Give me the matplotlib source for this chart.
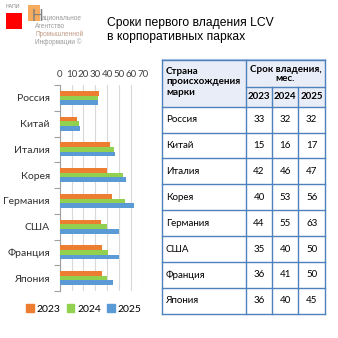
import numpy as np
import matplotlib
matplotlib.use("Agg")
import matplotlib.pyplot as plt
from matplotlib.patches import Rectangle, Patch

countries = ["Россия", "Китай", "Италия", "Корея", "Германия", "США", "Франция", "Япония"]
years = ["2023", "2024", "2025"]
v2023 = [33, 15, 42, 40, 44, 35, 36, 36]
v2024 = [32, 16, 46, 53, 55, 40, 41, 40]
v2025 = [32, 17, 47, 56, 63, 50, 50, 45]
series = [v2023, v2024, v2025]
colors = ["#ED7D31", "#92D050", "#5B9BD5"]
x_ticks = [0, 10, 20, 30, 40, 50, 60, 70]

title = "Сроки первого владения LCV\nв корпоративных парках"

plt.rcParams["font.family"] = ["Lato", "DejaVu Sans"]

W = H = 338
fig = plt.figure(figsize=(W / 100, H / 100), dpi=100)
fig.patch.set_facecolor("white")

# overlay in pixel coordinates for logo, title, table
ov = fig.add_axes([0, 0, 1, 1], zorder=0)
ov.set_xlim(0, W)
ov.set_ylim(H, 0)
ov.axis("off")
ov.patch.set_visible(False)

# logo
narrow = ["Liberation Sans Narrow", "Liberation Sans"]
ov.add_patch(Rectangle((6, 13), 16, 16, color="#FF0000", lw=0))
ov.add_patch(Rectangle((28, 5), 12, 16, color="#F7A24C", lw=0, alpha=0.9))
ov.text(6, 7, "НАПИ", fontsize=3.8, color="#8a8a8a", va="center", ha="left", family=narrow)
ov.text(32, 21, "Н", fontsize=11.5, color="#808080", va="baseline", ha="left", family=narrow)
logo_lines = ["ациональное", "Агентство", "Промышленной", "Информации ©"]
logo_y = [19.5, 27.5, 35.5, 43.5]
logo_x = [41.5, 35, 35, 35]
logo_c = ["#9a9a9a", "#9a9a9a", "#c49a86", "#9a9a9a"]
for t, y, x, c in zip(logo_lines, logo_y, logo_x, logo_c):
    ov.text(x, y, t, fontsize=4.7, color=c, va="baseline", ha="left", family=narrow)

# title
ov.text(107, 30, title, fontsize=8.7, color="black", va="center", ha="left",
        family="Liberation Sans", linespacing=1.25)
ov.plot([162, 325], [59, 59], color="#B4C7E7", lw=0.8)

# table
col_x = [162, 245.7, 272.3, 298.3, 325]
top, sub, head_bot = 60, 87.3, 106.7
row_h = (313.7 - head_bot) / len(countries)
border = "#4F81BD"
ov.add_patch(Rectangle((col_x[0], top), col_x[-1] - col_x[0], head_bot - top,
                       facecolor="#E9EDF7", edgecolor="none"))
lw = 1.0
ov.plot([col_x[0], col_x[-1]], [top, top], color=border, lw=lw)
ov.plot([col_x[1], col_x[-1]], [sub, sub], color=border, lw=lw)
for i in range(len(countries) + 1):
    y = head_bot + i * row_h
    ov.plot([col_x[0], col_x[-1]], [y, y], color=border, lw=lw)
bottom = head_bot + len(countries) * row_h
for j, x in enumerate(col_x):
    y0 = top if j in (0, 1, 4) else sub
    ov.plot([x, x], [y0, bottom], color=border, lw=lw)

ov.text(166, 82, "Страна\nпроисхождения\nмарки", fontsize=7, fontweight="bold",
        va="center", ha="left", linespacing=1.15)
ov.text((col_x[1] + col_x[-1]) / 2, 74, "Срок владения,\nмес.", fontsize=7,
        fontweight="bold", va="center", ha="center", linespacing=1.1)
for j, yr in enumerate(years):
    ov.text((col_x[j + 1] + col_x[j + 2]) / 2, 96.5, yr, fontsize=7,
            fontweight="bold", va="center", ha="center")
for i, c in enumerate(countries):
    yc = head_bot + (i + 0.5) * row_h
    ov.text(166, yc, c, fontsize=7, va="center", ha="left")
    for j in range(3):
        ov.text((col_x[j + 1] + col_x[j + 2]) / 2, yc, str(series[j][i]),
                fontsize=7, va="center", ha="center")

# bar chart
x0, x1 = 59.7, 142.7
y0, y1 = 85, 291
ax = fig.add_axes([x0 / W, 1 - y1 / H, (x1 - x0) / W, (y1 - y0) / H], zorder=1)
ax.patch.set_visible(False)
pos = np.arange(len(countries))
h = 0.18
for k, (vals, col) in enumerate(zip(series, colors)):
    ax.barh(pos + (k - 1) * h, vals, height=h, color=col, label=years[k], zorder=3)

ax.set_xlim(0, 70)
ax.set_ylim(len(countries) - 0.5, -0.5)
ax.set_xticks(x_ticks)
ax.xaxis.tick_top()
ax.tick_params(axis="x", length=0, labelsize=7, pad=4, colors="#404040")
ax.set_yticks(pos)
ax.set_yticklabels(countries)
ax.tick_params(axis="y", which="major", length=0, labelsize=7.5, pad=7, colors="#303030")
ax.set_yticks(np.arange(-0.5, len(countries), 1), minor=True)
ax.tick_params(axis="y", which="minor", length=4, color="#a0a0a0", width=0.8)
ax.grid(axis="x", color="#D9D9D9", lw=0.8, zorder=0)
for s in ["top", "right", "bottom"]:
    ax.spines[s].set_visible(False)
ax.spines["left"].set_color("#a0a0a0")
ax.spines["left"].set_linewidth(0.8)

handles = [Patch(color=c, label=y) for c, y in zip(colors, years)]
fig.legend(handles=handles, loc="center", bbox_to_anchor=(84 / W, 1 - 309 / H),
           ncol=3, frameon=False, fontsize=7.5, handlelength=0.7, handleheight=0.7,
           handletextpad=0.3, columnspacing=0.6)

fig.savefig("out.png", dpi=100, facecolor="white")
